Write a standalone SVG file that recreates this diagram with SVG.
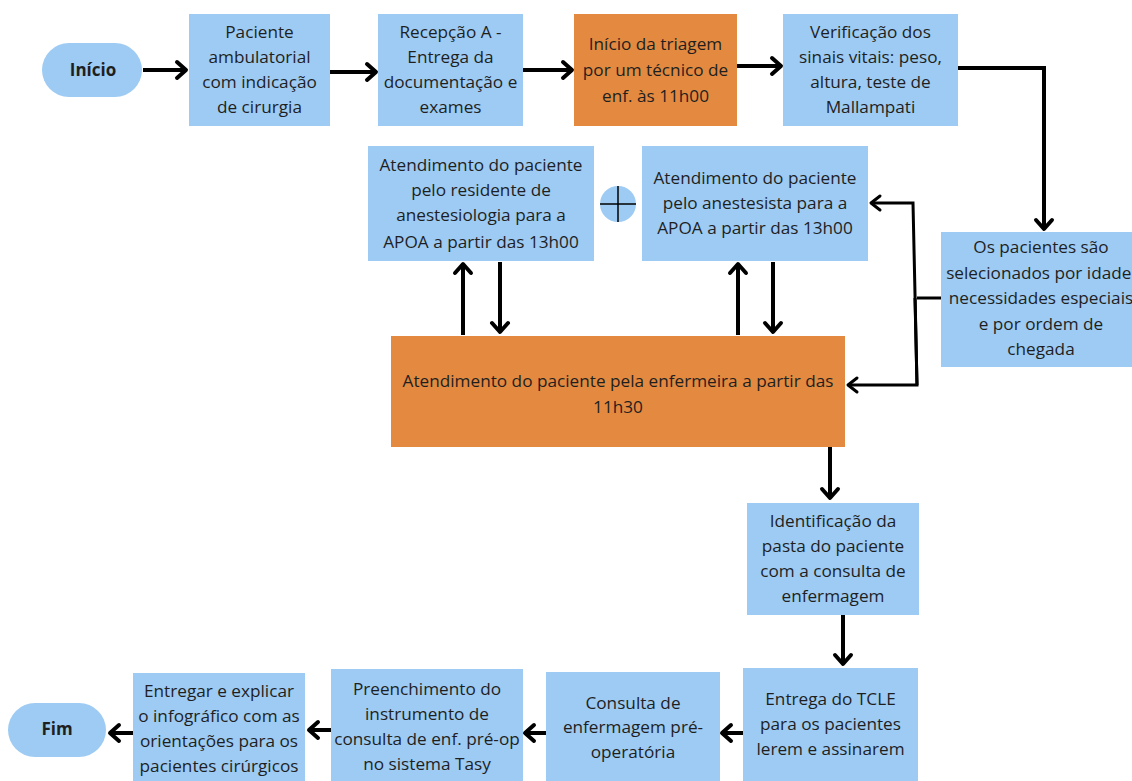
<svg xmlns="http://www.w3.org/2000/svg" width="1132" height="781" viewBox="0 0 1132 781">
  <style>
    .blue { fill: #9dcbf3; }
    .orange { fill: #e38a40; }
    .t { font-family: "Open Sans", "DejaVu Sans", sans-serif; font-size: 17.2px; fill: #1f1f1f; text-anchor: middle; }
    .b { font-weight: bold; font-size: 17px; }
    .ln { fill: none; stroke: #000; stroke-width: 4; }
    .thin { fill: none; stroke: #000; stroke-width: 3; }
  </style>
  <defs>
    <marker id="head" markerUnits="userSpaceOnUse" markerWidth="24" markerHeight="24" viewBox="-14 -12 18 24" refX="0" refY="0" orient="auto">
      <path d="M-9,-8 L0,0 L-9,8" fill="none" stroke="#000" stroke-width="4" stroke-linecap="round" stroke-linejoin="round"/>
    </marker>
    <marker id="headThin" markerUnits="userSpaceOnUse" markerWidth="24" markerHeight="24" viewBox="-14 -12 18 24" refX="0" refY="0" orient="auto">
      <path d="M-9,-7 L0,0 L-9,7" fill="none" stroke="#000" stroke-width="3" stroke-linecap="round" stroke-linejoin="round"/>
    </marker>
  </defs>

  <rect width="1132" height="781" fill="#ffffff"/>

  <!-- connectors -->
  <g id="connectors">
    <line class="ln" x1="143" y1="70" x2="186" y2="70" marker-end="url(#head)"/>
    <line class="ln" x1="330" y1="72" x2="376" y2="72" marker-end="url(#head)"/>
    <line class="ln" x1="523" y1="70" x2="572" y2="70" marker-end="url(#head)"/>
    <line class="ln" x1="737" y1="66" x2="781" y2="66" marker-end="url(#head)"/>
    <polyline class="ln" points="958,68 1044,68 1044,229" marker-end="url(#head)"/>

    <line class="thin" x1="941" y1="298" x2="917" y2="298"/>
    <polyline class="thin" points="917,385 913,203 871,203" marker-end="url(#headThin)"/>
    <polyline class="thin" points="915,298 917,385 848,385" marker-end="url(#headThin)"/>

    <line class="ln" x1="463" y1="335" x2="463" y2="264" marker-end="url(#head)"/>
    <line class="ln" x1="500" y1="262" x2="500" y2="332" marker-end="url(#head)"/>
    <line class="ln" x1="738" y1="335" x2="738" y2="264" marker-end="url(#head)"/>
    <line class="ln" x1="773" y1="262" x2="773" y2="332" marker-end="url(#head)"/>

    <line class="ln" x1="830" y1="447" x2="830" y2="498" marker-end="url(#head)"/>
    <line class="ln" x1="843" y1="615" x2="843" y2="664" marker-end="url(#head)"/>

    <line class="ln" x1="743" y1="733" x2="722" y2="733" marker-end="url(#head)"/>
    <line class="ln" x1="546" y1="733" x2="525" y2="733" marker-end="url(#head)"/>
    <line class="ln" x1="331" y1="730" x2="309" y2="730" marker-end="url(#head)"/>
    <line class="ln" x1="133" y1="733" x2="110" y2="733" marker-end="url(#head)"/>
  </g>

  <!-- start / end terminals -->
  <g id="inicio">
    <rect class="blue" x="42" y="43" width="100" height="54" rx="27"/>
    <text class="t b" x="93" y="76">Início</text>
  </g>
  <g id="fim">
    <rect class="blue" x="8" y="703" width="98" height="54" rx="27"/>
    <text class="t b" x="57" y="735">Fim</text>
  </g>

  <!-- top row -->
  <g id="paciente-ambulatorial">
    <rect class="blue" x="189" y="14" width="141" height="112"/>
    <text class="t" x="259.5" y="38">Paciente</text>
    <text class="t" x="259.5" y="63">ambulatorial</text>
    <text class="t" x="259.5" y="88">com indicação</text>
    <text class="t" x="259.5" y="113">de cirurgia</text>
  </g>
  <g id="recepcao">
    <rect class="blue" x="378" y="14" width="145" height="112"/>
    <text class="t" x="450.5" y="38">Recepção A -</text>
    <text class="t" x="450.5" y="63">Entrega da</text>
    <text class="t" x="450.5" y="88">documentação e</text>
    <text class="t" x="450.5" y="113">exames</text>
  </g>
  <g id="triagem">
    <rect class="orange" x="574" y="14" width="163" height="112"/>
    <text class="t" x="655.5" y="50">Início da triagem</text>
    <text class="t" x="655.5" y="76">por um técnico de</text>
    <text class="t" x="655.5" y="102">enf. às 11h00</text>
  </g>
  <g id="sinais-vitais">
    <rect class="blue" x="783" y="14" width="175" height="112"/>
    <text class="t" x="870.5" y="38">Verificação dos</text>
    <text class="t" x="870.5" y="63">sinais vitais: peso,</text>
    <text class="t" x="870.5" y="88">altura, teste de</text>
    <text class="t" x="870.5" y="113">Mallampati</text>
  </g>

  <!-- selection -->
  <g id="selecao">
    <rect class="blue" x="941" y="232" width="200" height="135"/>
    <text class="t" x="1041" y="253">Os pacientes são</text>
    <text class="t" x="1041" y="279">selecionados por idade,</text>
    <text class="t" x="1041" y="304">necessidades especiais</text>
    <text class="t" x="1041" y="330">e por ordem de</text>
    <text class="t" x="1041" y="355">chegada</text>
  </g>

  <!-- middle row -->
  <g id="residente">
    <rect class="blue" x="368" y="146" width="226" height="115"/>
    <text class="t" x="481" y="171">Atendimento do paciente</text>
    <text class="t" x="481" y="196">pelo residente de</text>
    <text class="t" x="481" y="221">anestesiologia para a</text>
    <text class="t" x="481" y="248">APOA a partir das 13h00</text>
  </g>
  <g id="mais">
    <circle class="blue" cx="618" cy="204" r="18"/>
    <line x1="600" y1="204" x2="636" y2="204" stroke="#000" stroke-width="1.5"/>
    <line x1="618" y1="186" x2="618" y2="222" stroke="#000" stroke-width="1.5"/>
  </g>
  <g id="anestesista">
    <rect class="blue" x="642" y="146" width="226" height="115"/>
    <text class="t" x="755" y="184">Atendimento do paciente</text>
    <text class="t" x="755" y="209">pelo anestesista para a</text>
    <text class="t" x="755" y="234">APOA a partir das 13h00</text>
  </g>
  <g id="enfermeira">
    <rect class="orange" x="391" y="336" width="454" height="111"/>
    <text class="t" x="618" y="387">Atendimento do paciente pela enfermeira a partir das</text>
    <text class="t" x="618" y="413">11h30</text>
  </g>

  <!-- right column -->
  <g id="identificacao">
    <rect class="blue" x="747" y="503" width="172" height="112"/>
    <text class="t" x="833" y="527">Identificação da</text>
    <text class="t" x="833" y="552">pasta do paciente</text>
    <text class="t" x="833" y="577">com a consulta de</text>
    <text class="t" x="833" y="602">enfermagem</text>
  </g>
  <g id="tcle">
    <rect class="blue" x="743" y="668" width="175" height="113"/>
    <text class="t" x="830.5" y="705">Entrega do TCLE</text>
    <text class="t" x="830.5" y="730">para os pacientes</text>
    <text class="t" x="830.5" y="755">lerem e assinarem</text>
  </g>

  <!-- bottom row -->
  <g id="consulta">
    <rect class="blue" x="546" y="672" width="174" height="109"/>
    <text class="t" x="633" y="709">Consulta de</text>
    <text class="t" x="633" y="733">enfermagem pré-</text>
    <text class="t" x="633" y="758">operatória</text>
  </g>
  <g id="preenchimento">
    <rect class="blue" x="331" y="669" width="192" height="112"/>
    <text class="t" x="427" y="695">Preenchimento do</text>
    <text class="t" x="427" y="720">instrumento de</text>
    <text class="t" x="427" y="745">consulta de enf. pré-op</text>
    <text class="t" x="427" y="770">no sistema Tasy</text>
  </g>
  <g id="infografico">
    <rect class="blue" x="133" y="673" width="172" height="108"/>
    <text class="t" x="219" y="697">Entregar e explicar</text>
    <text class="t" x="219" y="722">o infográfico com as</text>
    <text class="t" x="219" y="747">orientações para os</text>
    <text class="t" x="219" y="772">pacientes cirúrgicos</text>
  </g>
</svg>
